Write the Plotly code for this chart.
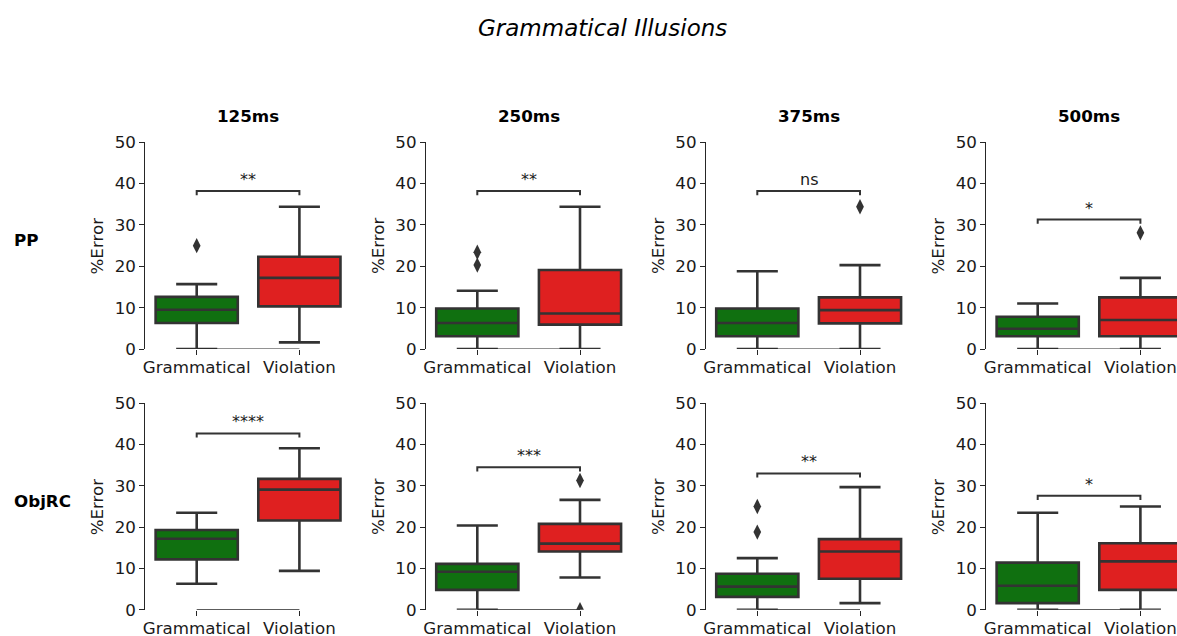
import plotly.graph_objects as go

# ---------------- data ----------------
conditions = ["PP", "ObjRC"]
durations = ["125ms", "250ms", "375ms", "500ms"]
categories = ["Grammatical", "Violation"]

# box stats [lowerfence, q1, median, q3, upperfence] per row, per column
gram_stats = [
    [[0, 6.3, 9.5, 12.6, 15.7], [0, 3.1, 6.3, 9.8, 14.1], [0, 3.1, 6.3, 9.8, 18.8], [0, 3.1, 4.9, 7.8, 11.0]],
    [[6.3, 12.2, 17.2, 19.3, 23.5], [0, 4.8, 9.2, 11.1, 20.4], [0, 3.1, 5.6, 8.7, 12.5], [0, 1.6, 5.8, 11.4, 23.5]],
]
viol_stats = [
    [[1.6, 10.3, 17.2, 22.3, 34.4], [0, 5.9, 8.6, 19.1, 34.4], [0, 6.2, 9.4, 12.5, 20.3], [0, 3.1, 7.0, 12.5, 17.2]],
    [[9.4, 21.6, 29.1, 31.7, 39.1], [7.8, 14.1, 16.0, 20.8, 26.6], [1.6, 7.5, 14.1, 17.1, 29.7], [0, 4.8, 11.7, 16.1, 25.0]],
]
gram_outliers = [
    [[25.0], [23.4, 20.3], [], []],
    [[], [], [25.0, 18.8], []],
]
viol_outliers = [
    [[], [], [34.4], [28.1]],
    [[], [31.3, 0.0], [], []],
]
sig_height = [
    [38.2, 38.2, 38.2, 31.3],
    [42.7, 34.5, 33.0, 27.6],
]
sig_label = [
    ["**", "**", "ns", "*"],
    ["****", "***", "**", "*"],
]
y_ticks = [0, 10, 20, 30, 40, 50]

# ---------------- style ----------------
W, H = 1177, 636
FONT = "DejaVu Sans"
LINE = "#333333"
SPINE = "#262626"
GREEN = "#107010"
RED = "#df2020"
fs = 16.7

# layout positions in pixels
gram_px = [196.7, 477.3, 757.3, 1037.7]
step = 102.7
row_px = [(142.3, 349.0), (403.3, 609.7)]

fig = go.Figure()
layout = dict(
    template="none",
    width=W, height=H, margin=dict(l=0, r=0, t=0, b=0, pad=0, autoexpand=False),
    paper_bgcolor="white", plot_bgcolor="white", showlegend=False,
    font=dict(family=FONT, size=fs, color="#1a1a1a"),
)
shapes, annotations = [], []

for r in range(2):
    for c in range(4):
        idx = r * 4 + c + 1
        xa = "x" if idx == 1 else f"x{idx}"
        ya = "y" if idx == 1 else f"y{idx}"
        left = gram_px[c] - 0.5 * step
        right = min(gram_px[c] + 1.5 * step, W)
        xmax = (right - gram_px[c]) / step
        top, bot = row_px[r]
        layout[f"xaxis{'' if idx == 1 else idx}"] = dict(
            domain=[left / W, right / W], range=[-0.5, xmax], anchor=ya,
            tickmode="array", tickvals=[0, 1], ticktext=categories,
            ticks="outside", ticklen=5, tickwidth=1.2, tickcolor=SPINE,
            ticklabelstandoff=-2,
            showline=False, showgrid=False, zeroline=False, automargin=False,
            tickfont=dict(family=FONT, size=fs, color="#1a1a1a"),
        )
        layout[f"yaxis{'' if idx == 1 else idx}"] = dict(
            domain=[(H - bot) / H, (H - top) / H], range=[0, 50], anchor=xa,
            tickmode="array", tickvals=y_ticks,
            ticks="outside", ticklen=5, tickwidth=1.2, tickcolor=SPINE,
            showline=True, linecolor=SPINE, linewidth=1.2,
            showgrid=False, zeroline=False, automargin=False,
            tickfont=dict(family=FONT, size=fs, color="#1a1a1a"),
        )
        for xi, (stats, col, outs) in enumerate(
            [(gram_stats[r][c], GREEN, gram_outliers[r][c]),
             (viol_stats[r][c], RED, viol_outliers[r][c])]):
            lo, q1, med, q3, hi = stats
            fig.add_trace(go.Box(
                x=[xi], q1=[q1], median=[med], q3=[q3], lowerfence=[lo], upperfence=[hi],
                width=0.8, whiskerwidth=0.5, fillcolor=col,
                line=dict(color=LINE, width=2.6), boxpoints=False,
                xaxis=xa, yaxis=ya, hoverinfo="skip",
            ))
            if outs:
                fig.add_trace(go.Scatter(
                    x=[xi] * len(outs), y=outs, mode="markers",
                    marker=dict(symbol="diamond-tall", size=11, color=LINE),
                    xaxis=xa, yaxis=ya, hoverinfo="skip",
                ))
        # trimmed bottom spine
        shapes.append(dict(type="line", xref=xa, yref=ya, x0=0, x1=1, y0=0, y1=0,
                           line=dict(color=SPINE, width=1.2), layer="above"))
        # significance bracket
        h = sig_height[r][c]
        shapes.append(dict(type="path", xref=xa, yref=ya,
                           path=f"M 0,{h - 1} L 0,{h} L 1,{h} L 1,{h - 1}",
                           line=dict(color=LINE, width=2)))
        annotations.append(dict(x=0.5, y=h, xref=xa, yref=ya, text=sig_label[r][c],
                                showarrow=False, yanchor="bottom", yshift=0,
                                font=dict(family=FONT, size=16, color="#1a1a1a")))
        # y-axis title
        annotations.append(dict(x=(left - 48.5) / W, y=(H - (top + bot) / 2) / H,
                                xref="paper", yref="paper", text="%Error", textangle=-90,
                                showarrow=False, xanchor="center", yanchor="middle",
                                font=dict(family=FONT, size=fs, color="#1a1a1a")))
        # column titles
        if r == 0:
            annotations.append(dict(x=(left + gram_px[c] + 1.5 * step) / 2 / W, y=(H - 116) / H,
                                    xref="paper", yref="paper", text=f"<b>{durations[c]}</b>",
                                    showarrow=False, xanchor="center", yanchor="middle",
                                    font=dict(family=FONT, size=fs, color="black")))
    # row label
    annotations.append(dict(x=12 / W, y=(H - (row_px[r][0] + row_px[r][1]) / 2 + 5.5) / H,
                            xref="paper", yref="paper", text=f"<b>{conditions[r]}</b>",
                            showarrow=False, xanchor="left", yanchor="middle",
                            font=dict(family=FONT, size=fs, color="black")))

# main title
annotations.append(dict(x=602 / W, y=(H - 28) / H, xref="paper", yref="paper",
                        text="<i>Grammatical Illusions</i>", showarrow=False,
                        xanchor="center", yanchor="middle",
                        font=dict(family=FONT, size=23, color="black")))

layout["shapes"] = shapes
layout["annotations"] = annotations
fig.update_layout(**layout)
fig.write_html("out.html")
